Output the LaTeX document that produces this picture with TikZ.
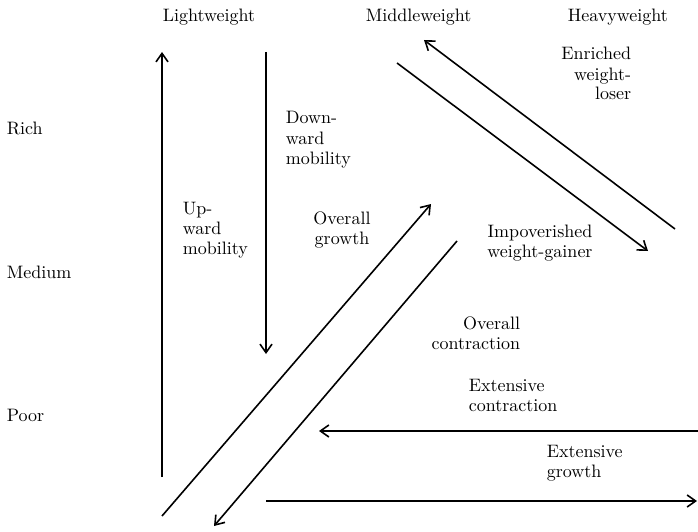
\documentclass[tikz,border=0pt]{standalone}
\usepackage{fontspec}
\setmainfont{lmroman10-regular.otf}
\usetikzlibrary{arrows.meta}

\tikzset{every picture/.style={line width=1.6pt}}

\begin{document}
\begin{tikzpicture}[x=1pt,y=1pt,yscale=-1,xscale=1,
  lbl/.style={inner sep=0pt,font=\fontsize{18}{20}\selectfont},
  arr/.style={-{Straight Barb[length=8.5pt,width=12pt,line width=1.6pt]}}]
\useasboundingbox (0,0) rectangle (698,532);

% Column heads
\node (lightw) [lbl,anchor=base west] at (162,22) {Lightweight};
\node (middlew) [lbl,anchor=base west] at (365,22) {Middleweight};
\node (heavyw) [lbl,anchor=base west] at (567,22) {Heavyweight};
% Row heads
\node (rich) [lbl,anchor=base west] at (6,135) {Rich};
\node (medium) [lbl,anchor=base west] at (6,278) {Medium};
\node (poor) [lbl,anchor=base west] at (6,421) {Poor};

% Text Node (base = last line)
\node (upmob) [lbl,anchor=base west,align=left] at (182,254) {Up-\\ward\\mobility};
% Text Node
\node (downmob) [lbl,anchor=base west,align=left] at (285,164) {Down-\\ward\\mobility};
% Text Node
\node (ovgrowth) [lbl,anchor=base,align=center] at (342,244) {Overall\\growth};
% Text Node
\node (enrich) [lbl,anchor=base east,align=right] at (632,100) {Enriched\\weight-\\loser};
% Text Node
\node (impov) [lbl,anchor=base,align=center] at (540,257) {Impoverished\\weight-gainer};
% Text Node
\node (ovcontr) [lbl,anchor=base east,align=right] at (521,349) {Overall\\contraction};
% Text Node
\node (excontr) [lbl,anchor=base west,align=left] at (468,411) {Extensive\\contraction};
% Text Node
\node (exgrowth) [lbl,anchor=base west,align=left] at (546,477) {Extensive\\growth};

% Ends of the arrows
\coordinate (up0) at (162,477);   \coordinate (up1) at (162,52);
\coordinate (dn0) at (266,52);    \coordinate (dn1) at (266,354);
\coordinate (og0) at (162,516);   \coordinate (og1) at (431,204);
\coordinate (oc0) at (457,241);   \coordinate (oc1) at (214,526);
\coordinate (ig0) at (397,63);    \coordinate (ig1) at (648,251);
\coordinate (el0) at (675,229);   \coordinate (el1) at (424,40);
\coordinate (ec0) at (698,431);   \coordinate (ec1) at (319,431);
\coordinate (eg0) at (266,501);   \coordinate (eg1) at (697,501);

%Straight Lines
\draw [arr] (up0) -- (up1);
\draw [arr] (dn0) -- (dn1);
\draw [arr] (og0) -- (og1);
\draw [arr] (oc0) -- (oc1);
\draw [arr] (ig0) -- (ig1);
\draw [arr] (el0) -- (el1);
\draw [arr] (ec0) -- (ec1);
\draw [arr] (eg0) -- (eg1);

\end{tikzpicture}
\end{document}
